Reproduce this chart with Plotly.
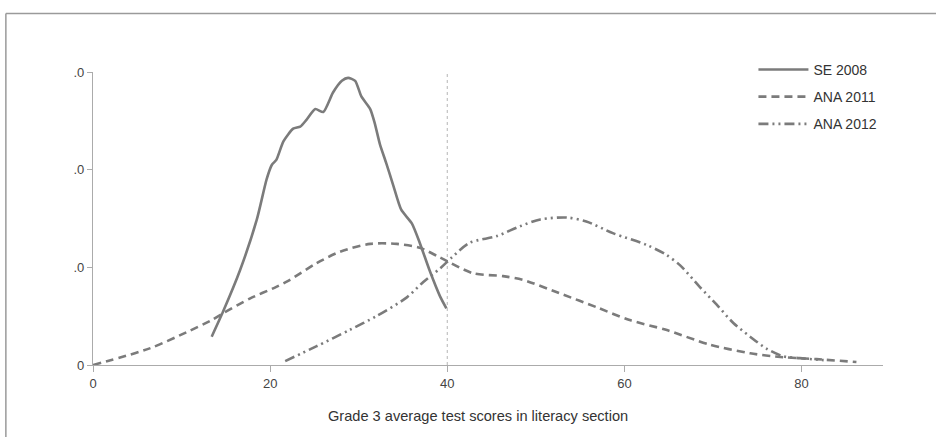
import plotly.graph_objects as go

# ---- data ----
se2008_x = [13.4, 14.7, 16.6, 18.5, 19.6, 20.2, 20.7, 21.5, 22.6, 23.4, 24.1, 25.1, 26.0, 27.1, 28.1, 28.8,
            29.6, 30.3, 31.3, 31.8, 32.4, 33.1, 33.9, 34.8, 36.0, 36.9, 38.0, 39.2, 39.9]
se2008_y = [0.29, 0.55, 0.97, 1.49, 1.90, 2.05, 2.10, 2.29, 2.42, 2.44, 2.51, 2.62, 2.59, 2.79, 2.91, 2.94,
            2.91, 2.75, 2.62, 2.48, 2.26, 2.07, 1.84, 1.59, 1.45, 1.25, 0.97, 0.70, 0.58]

ana2011_x = [0.0, 6.4, 10.9, 13.2, 14.7, 17.7, 20.7, 22.2, 25.2, 27.9, 31.3, 34.3, 36.9, 39.2, 42.9, 46.3,
             48.6, 53.1, 56.9, 60.6, 64.7, 69.6, 74.2, 77.9, 81.7, 86.2]
ana2011_y = [0.00, 0.17, 0.35, 0.45, 0.53, 0.68, 0.80, 0.87, 1.04, 1.16, 1.24, 1.24, 1.20, 1.10, 0.94, 0.91,
             0.87, 0.72, 0.59, 0.46, 0.36, 0.21, 0.12, 0.08, 0.06, 0.03]

ana2012_x = [21.7, 25.2, 29.0, 32.0, 35.4, 37.3, 39.2, 40.5, 42.5, 45.6, 48.2, 50.5, 53.5, 55.7, 58.7, 62.5,
             64.7, 66.3, 68.5, 70.4, 72.3, 74.2, 76.0, 77.9, 79.8, 82.5]
ana2012_y = [0.04, 0.19, 0.36, 0.50, 0.69, 0.85, 0.99, 1.10, 1.25, 1.32, 1.42, 1.49, 1.51, 1.47, 1.35, 1.23,
             1.13, 1.02, 0.80, 0.62, 0.43, 0.29, 0.17, 0.09, 0.07, 0.05]

x_ticks = [0, 20, 40, 60, 80]
y_ticks = [0, 1, 2, 3]
y_tick_text = ["0", ".0", ".0", ".0"]
ref_x = 40
x_title = "Grade 3 average test scores in literacy section"

# ---- styling ----
LINE = "#7b7b7b"
AXIS = "#ababab"
TXT = "#444444"
FONT = "Liberation Sans, Arial, sans-serif"

fig = go.Figure()
fig.add_trace(go.Scatter(x=se2008_x, y=se2008_y, mode="lines", name="SE 2008",
                         line=dict(color=LINE, width=2.6, shape="spline", smoothing=0.6),
                         legendgroup="a"))
fig.add_trace(go.Scatter(x=ana2011_x, y=ana2011_y, mode="lines", name="ANA 2011",
                         line=dict(color=LINE, width=2.6, dash="8px,5px", shape="spline", smoothing=0.8),
                         legendgroup="b"))
fig.add_trace(go.Scatter(x=ana2012_x, y=ana2012_y, mode="lines", name="ANA 2012",
                         line=dict(color=LINE, width=2.6, dash="10px,4px,2px,4px,2px,4px",
                                   shape="spline", smoothing=0.8),
                         legendgroup="c"))

fig.add_shape(type="line", xref="x", yref="y", x0=ref_x, x1=ref_x, y0=0, y1=3,
              line=dict(color="#b5b5b5", width=1, dash="dot"), layer="below")

# outer frame (top and left edges)
fig.add_shape(type="line", xref="paper", yref="paper", x0=-0.1103, x1=1.08, y0=1.2, y1=1.2,
              line=dict(color="#9a9a9a", width=1.5))
fig.add_shape(type="line", xref="paper", yref="paper", x0=-0.1103, x1=-0.1103, y0=1.2, y1=-0.3,
              line=dict(color="#9a9a9a", width=1.5))

fig.add_annotation(text=x_title, xref="paper", yref="paper", x=0.487, y=-0.175,
                   xanchor="center", yanchor="middle", showarrow=False,
                   font=dict(family=FONT, size=14.6, color="#333333"))

fig.update_layout(
    width=936, height=437,
    margin=dict(l=93, r=53, t=72, b=72),
    paper_bgcolor="white", plot_bgcolor="white",
    font=dict(family=FONT, size=13, color=TXT),
    showlegend=True,
    legend=dict(x=0.836, y=1.062, xanchor="left", yanchor="top",
                font=dict(family=FONT, size=14, color="#333333"),
                itemwidth=50, traceorder="grouped", tracegroupgap=6,
                bgcolor="rgba(0,0,0,0)"),
    xaxis=dict(range=[0, 89.2], tickvals=x_ticks, showgrid=False, zeroline=False,
               showline=True, linecolor=AXIS, linewidth=1.2,
               ticks="outside", ticklen=6, tickcolor=AXIS, tickfont=dict(size=13, color=TXT)),
    yaxis=dict(range=[0, 3], tickvals=y_ticks, ticktext=y_tick_text, showgrid=False, zeroline=False,
               showline=True, linecolor=AXIS, linewidth=1.2,
               ticks="outside", ticklen=5, tickcolor=AXIS, tickfont=dict(size=13, color=TXT)),
)

fig.write_html("out.html")
